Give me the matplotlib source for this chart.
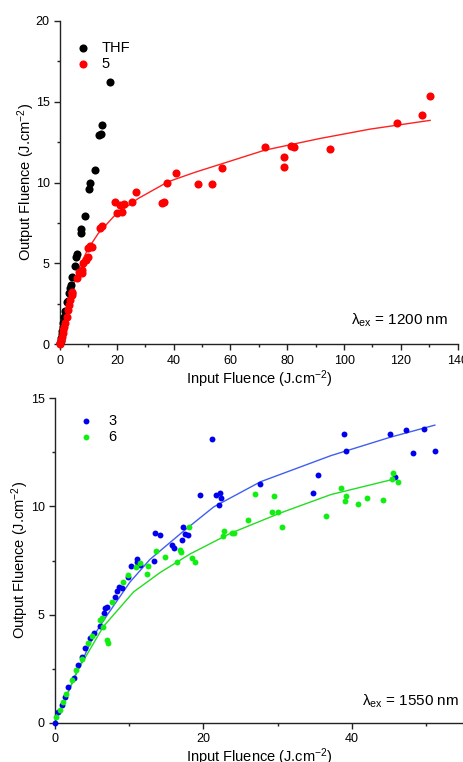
import matplotlib
matplotlib.use("Agg")
import matplotlib.pyplot as plt
from matplotlib.ticker import MultipleLocator

plt.rcParams['font.family'] = ['Liberation Sans', 'DejaVu Sans']
plt.rcParams['mathtext.fontset'] = 'custom'
plt.rcParams['mathtext.rm'] = 'Liberation Sans'
plt.rcParams['mathtext.it'] = 'Liberation Sans'

# ---- top panel (1200 nm) ----
thf_x = [0.05, 0.2, 0.4, 0.6, 0.8, 1.0, 1.2, 1.5, 1.8, 2.3, 2.7, 3.1, 3.5, 3.9, 4.2,
         5.3, 5.6, 6.1, 7.3, 7.5, 8.7, 10.1, 10.6, 12.3, 13.6, 14.4, 14.9, 17.5]
thf_y = [0.05, 0.2, 0.4, 0.65, 0.85, 1.1, 1.3, 1.7, 2.05, 2.6, 2.7, 3.15, 3.5, 3.65, 4.14,
         4.85, 5.42, 5.58, 6.9, 7.1, 7.95, 9.6, 10.0, 10.8, 12.93, 12.98, 13.57, 16.23]

c5_x = [0.0, 0.1, 0.3, 0.6, 0.9, 1.2, 1.5, 1.8, 2.3, 2.9, 3.2, 3.5, 4.1, 4.1, 4.4,
        5.9, 6.7, 7.6, 7.6, 8.2, 9.0, 10.0, 10.0, 10.6, 11.2, 14.1, 14.7,
        19.4, 19.9, 21.1, 21.7, 22.5, 25.5, 26.6, 35.8, 36.7, 37.6, 40.7,
        48.7, 53.6, 57.2, 72.1, 78.9, 78.9, 81.3, 82.2, 95.1, 118.7, 127.6, 130.3]
c5_y = [0.0, 0.1, 0.25, 0.47, 0.7, 0.88, 1.1, 1.3, 1.71, 2.12, 2.43, 2.74, 3.05, 3.25, 3.15,
        4.08, 4.49, 4.6, 4.39, 5.0, 5.2, 5.42, 5.93, 6.07, 6.03, 7.17, 7.31,
        8.81, 8.1, 8.61, 8.2, 8.67, 8.78, 9.43, 8.75, 8.81, 9.95, 10.57,
        9.9, 9.9, 10.9, 12.2, 11.58, 10.98, 12.28, 12.21, 12.09, 13.66, 14.17, 15.35]

fit5_x = [0, 1.0, 2.35, 3.8, 5.3, 7.5, 10.0, 13.5, 19.4, 27.6, 38.1, 47.5, 58.1, 72.1, 91.5, 109.2, 130.3]
fit5_y = [0, 0.95, 2.1, 3.1, 3.97, 5.05, 5.93, 6.86, 7.99, 9.02, 10.05, 10.63, 11.22, 12.0, 12.72, 13.3, 13.84]

# ---- bottom panel (1550 nm) ----
c3_x = [0.0, 0.45, 0.9, 1.35, 1.8, 2.5, 3.15, 3.6, 4.05, 4.7, 5.3, 6.0, 6.6, 6.8, 7.0,
        8.1, 8.3, 8.6, 9.0, 9.9, 10.3, 11.0, 11.0, 11.4, 13.3, 13.5, 14.2, 15.8, 16.0,
        17.1, 17.3, 17.5, 17.9, 19.6, 21.2, 21.7, 22.3, 22.4, 22.1, 27.6, 34.8, 35.5,
        39.0, 39.2, 45.2, 45.9, 47.3, 48.3, 49.8, 51.2]
c3_y = [0.0, 0.51, 0.82, 1.2, 1.66, 2.05, 2.67, 3.05, 3.44, 3.9, 4.16, 4.47, 5.08, 5.29, 5.36,
        5.82, 6.1, 6.28, 6.21, 6.72, 7.24, 7.55, 7.44, 7.29, 7.49, 8.78, 8.67, 8.21, 8.1,
        8.47, 9.06, 8.72, 8.7, 10.52, 13.14, 10.52, 10.63, 10.41, 10.07, 11.02, 10.61, 11.46,
        13.34, 12.56, 13.34, 11.37, 13.54, 12.49, 13.59, 12.56]

c6_x = [0.2, 0.65, 1.1, 1.5, 2.25, 2.85, 3.6, 4.4, 4.95, 6.1, 6.3, 6.5, 7.0, 7.1, 7.7,
        9.1, 9.8, 10.9, 11.5, 12.4, 12.5, 13.6, 14.8, 16.4, 16.8, 17.0, 18.0, 18.5, 18.9,
        22.7, 22.8, 23.8, 24.1, 26.0, 26.9, 29.2, 29.5, 30.1, 30.6, 36.5, 38.5, 39.1, 39.2,
        40.9, 42.1, 44.2, 45.4, 45.6, 46.2]
c6_y = [0.28, 0.6, 0.97, 1.35, 1.97, 2.44, 2.93, 3.7, 4.0, 4.75, 4.86, 4.44, 3.82, 3.67, 5.59,
        6.5, 6.82, 7.21, 7.39, 6.87, 7.26, 7.93, 7.64, 7.44, 8.0, 7.9, 9.03, 7.6, 7.44,
        8.64, 8.87, 8.78, 8.78, 9.37, 10.57, 9.74, 10.48, 9.74, 9.04, 9.54, 10.86, 10.23, 10.48,
        10.12, 10.41, 10.28, 11.26, 11.55, 11.11]

fit3_x = [0, 2.48, 5.18, 6.98, 10.1, 12.8, 17.3, 21.4, 27.7, 37.2, 45.2, 51.2]
fit3_y = [0, 1.97, 4.0, 4.95, 6.5, 7.55, 8.85, 9.98, 11.14, 12.35, 13.2, 13.76]

fit6_x = [0, 2.93, 6.53, 10.6, 14.2, 18.2, 23.6, 30.4, 37.2, 45.9]
fit6_y = [0, 2.35, 4.45, 6.05, 6.95, 7.8, 8.75, 9.7, 10.55, 11.28]

fig = plt.figure(figsize=(4.64, 7.62), dpi=100)
ax1 = fig.add_axes([60 / 464, 1 - 344.3 / 762, 397.7 / 464, 323.6 / 762])
ax2 = fig.add_axes([55 / 464, 1 - 722.7 / 762, 408 / 464, 324.4 / 762])


def style(ax):
    for s in ['top', 'right']:
        ax.spines[s].set_visible(False)
    for s in ['left', 'bottom']:
        ax.spines[s].set_linewidth(1.0)
        ax.spines[s].set_color('#222222')
    ax.tick_params(which='major', direction='out', length=4, width=1, labelsize=9, color='#222222')
    ax.tick_params(which='minor', direction='out', length=2.5, width=1, color='#222222')


# top
ax1.plot(fit5_x, fit5_y, color='#ff2020', lw=1.0, zorder=2)
ax1.scatter(thf_x, thf_y, s=34, color='black', label='THF', zorder=3, clip_on=False, linewidths=0)
ax1.scatter(c5_x, c5_y, s=34, color='#ff0000', label='5', zorder=3, clip_on=False, linewidths=0)
ax1.set_xlim(0, 140)
ax1.set_ylim(0, 20)
ax1.xaxis.set_major_locator(MultipleLocator(20))
ax1.xaxis.set_minor_locator(MultipleLocator(10))
ax1.yaxis.set_major_locator(MultipleLocator(5))
ax1.yaxis.set_minor_locator(MultipleLocator(2.5))
style(ax1)
ax1.set_xlabel('Input Fluence (J.cm$^{-2}$)', fontsize=10.5, labelpad=1)
ax1.set_ylabel('Output Fluence (J.cm$^{-2}$)', fontsize=10.5, labelpad=-1)
ax1.legend(loc='upper left', bbox_to_anchor=(0.002, 0.96), frameon=False, fontsize=10.5,
           handletextpad=0.3, borderpad=0, labelspacing=0.15, scatterpoints=1)
ax1.text(0.975, 0.075, r'$\lambda_{\rm ex}$ = 1200 nm', transform=ax1.transAxes,
         ha='right', va='center', fontsize=11)

# bottom
ax2.plot(fit3_x, fit3_y, color='#3f5ff0', lw=1.0, zorder=2)
ax2.plot(fit6_x, fit6_y, color='#22dd22', lw=1.0, zorder=2)
ax2.scatter(c3_x, c3_y, s=18, color='#0000ee', label='3', zorder=3, clip_on=False, linewidths=0)
ax2.scatter(c6_x, c6_y, s=18, color='#11ee11', label='6', zorder=3, clip_on=False, linewidths=0)
ax2.set_xlim(0, 55)
ax2.set_ylim(0, 15)
ax2.xaxis.set_major_locator(MultipleLocator(20))
ax2.xaxis.set_minor_locator(MultipleLocator(10))
ax2.yaxis.set_major_locator(MultipleLocator(5))
ax2.yaxis.set_minor_locator(MultipleLocator(2.5))
style(ax2)
ax2.set_xlabel('Input Fluence (J.cm$^{-2}$)', fontsize=10.5, labelpad=1)
ax2.set_ylabel('Output Fluence (J.cm$^{-2}$)', fontsize=10.5, labelpad=-0.5)
ax2.legend(loc='upper left', bbox_to_anchor=(0.023, 0.975), frameon=False, fontsize=10.5,
           handletextpad=0.5, borderpad=0, labelspacing=0.15, scatterpoints=1)
ax2.text(0.99, 0.065, r'$\lambda_{\rm ex}$ = 1550 nm', transform=ax2.transAxes,
         ha='right', va='center', fontsize=11)

fig.savefig('out.png', dpi=100, facecolor='white')
